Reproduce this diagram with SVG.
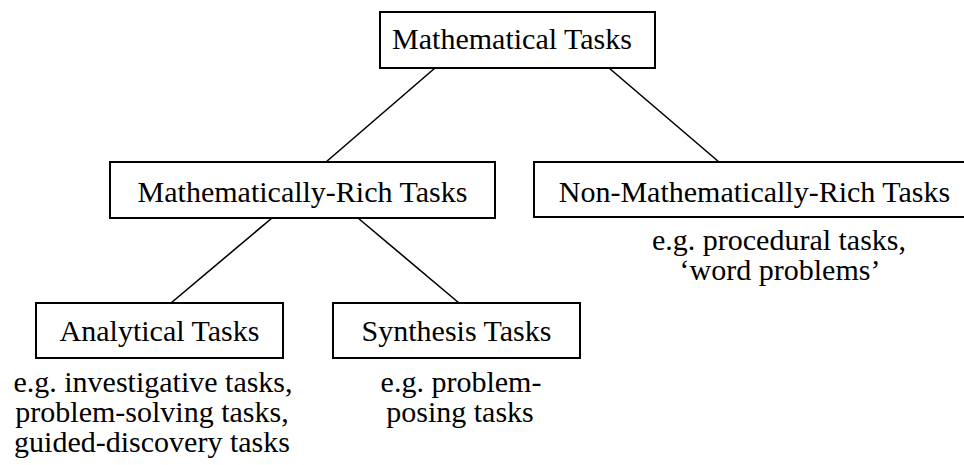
<svg xmlns="http://www.w3.org/2000/svg" width="964" height="465" viewBox="0 0 964 465">
<style>
.box{fill:#fff;stroke:#000;stroke-width:2}
.lbl{font-family:"Liberation Serif","Times New Roman",serif;font-size:30px;fill:#000;text-anchor:middle}
.edge{stroke:#000;stroke-width:1.6;fill:none}
</style>
<rect width="964" height="465" fill="#fff"/>
<g id="connectors">
<line class="edge" x1="435" y1="68" x2="326" y2="162"/>
<line class="edge" x1="609" y1="68" x2="719" y2="162"/>
<line class="edge" x1="272" y1="218" x2="171" y2="303"/>
<line class="edge" x1="358" y1="218" x2="459" y2="303"/>
</g>
<g id="mathematical-tasks">
<rect class="box" x="380" y="12" width="275" height="56"/>
<text class="lbl" x="512" y="49">Mathematical Tasks</text>
</g>
<g id="rich-tasks">
<rect class="box" x="110" y="162" width="385" height="56"/>
<text class="lbl" x="302.5" y="202">Mathematically-Rich Tasks</text>
</g>
<g id="non-rich-tasks">
<rect class="box" x="534" y="162" width="440" height="55"/>
<text class="lbl" x="754.5" y="202">Non-Mathematically-Rich Tasks</text>
<text class="lbl" x="779" y="250">e.g. procedural tasks,</text>
<text class="lbl" x="780" y="280">‘word problems’</text>
</g>
<g id="analytical-tasks">
<rect class="box" x="36" y="303" width="247" height="55"/>
<text class="lbl" x="159.5" y="341">Analytical Tasks</text>
<text class="lbl" x="153" y="392">e.g. investigative tasks,</text>
<text class="lbl" x="152" y="422">problem-solving tasks,</text>
<text class="lbl" x="152" y="452">guided-discovery tasks</text>
</g>
<g id="synthesis-tasks">
<rect class="box" x="333" y="303" width="247" height="55"/>
<text class="lbl" x="456.5" y="341">Synthesis Tasks</text>
<text class="lbl" x="461" y="392">e.g. problem-</text>
<text class="lbl" x="460" y="422">posing tasks</text>
</g>
</svg>
